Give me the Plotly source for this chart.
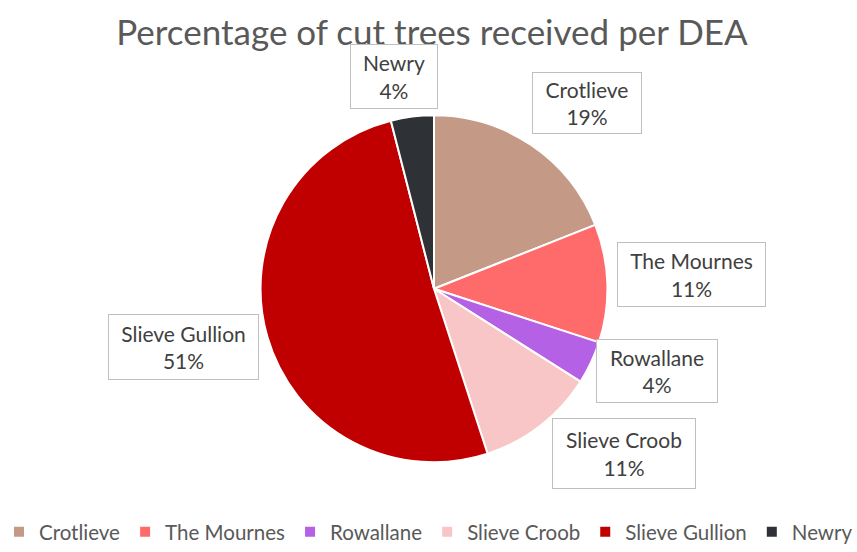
import plotly.graph_objects as go

# DEA share of cut trees received (percent)
regions = ["Crotlieve", "The Mournes", "Rowallane", "Slieve Croob", "Slieve Gullion", "Newry"]
shares = [19, 11, 4, 11, 51, 4]
colors = ["#C49A86", "#FF6B6B", "#B461E6", "#F8C6C6", "#C00000", "#2E3236"]

# label box centres (pixels in the 857x552 canvas)
label_px = [(587, 105), (691, 279), (657, 376), (624, 460), (183, 352), (394, 78)]
label_size = [(108, 60), (147, 63), (120, 62), (142, 69), (149, 64), (86, 63)]

W, H = 857, 552
FONT = "Lato"

fig = go.Figure(go.Pie(
    labels=regions,
    values=shares,
    sort=False,
    direction="clockwise",
    rotation=0,
    textinfo="none",
    hoverinfo="label+percent",
    marker=dict(colors=colors, line=dict(color="white", width=2)),
    domain=dict(x=[258 / W, 610 / W], y=[1 - 469 / H, 1 - 117 / H]),
))

total = sum(shares)
for name, val, (px, py), (bw, bh) in zip(regions, shares, label_px, label_size):
    fig.add_annotation(
        x=px / W, y=1 - py / H, xref="paper", yref="paper",
        xanchor="center", yanchor="middle",
        text=f"{name}<br>{round(100 * val / total)}%",
        showarrow=False,
        font=dict(family=FONT, size=21, color="#404040"),
        bgcolor="white", bordercolor="#BFBFBF", borderwidth=1,
        width=bw - 2, height=bh - 2, align="center",
    )

fig.update_layout(
    width=W, height=H,
    margin=dict(l=0, r=0, t=0, b=0),
    paper_bgcolor="white", plot_bgcolor="white",
    title=dict(text="Percentage of cut trees received per DEA",
               x=432 / W, xanchor="center", y=1 - 33 / H, yanchor="middle",
               font=dict(family=FONT, size=35, color="#595959")),
    legend=dict(orientation="h", x=0.5, xanchor="center", y=1 - 540 / H, yanchor="middle",
                font=dict(family=FONT, size=20.5, color="#595959"),
                itemwidth=30, traceorder="normal"),
    showlegend=True,
)

fig.write_html("out.html")
